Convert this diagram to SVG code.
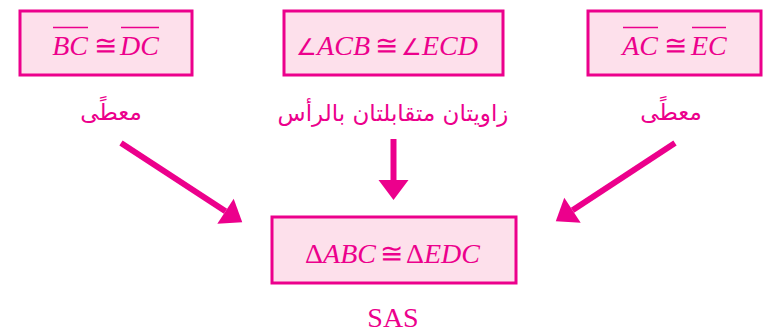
<svg xmlns="http://www.w3.org/2000/svg" width="767" height="333" viewBox="0 0 767 333">
<style>
.box{fill:#FDE0EB;stroke:#EC008C;stroke-width:3}
.m{font-family:"Liberation Serif",serif;font-size:28px;fill:#EC008C}
.i{font-style:italic}
.e{text-anchor:end}
.mid{text-anchor:middle}
.ang{font-size:23px;font-style:normal}
.ar{font-family:"DejaVu Sans",sans-serif;font-size:23px;fill:#EC008C;text-anchor:middle}
.ov{stroke:#EC008C;stroke-width:1.5}
.c{stroke:#EC008C;stroke-width:6;fill:none}
</style>
<defs>
<marker id="ah" markerUnits="userSpaceOnUse" markerWidth="20" markerHeight="30" refX="0" refY="15" orient="auto" overflow="visible">
<path d="M0,0 L20,15 L0,30 Z" fill="#EC008C"/>
</marker>
</defs>
<g id="n1">
<rect class="box" x="20" y="11" width="172" height="64"/>
<text class="m i e" x="88" y="55">BC</text>
<text class="m mid" x="105" y="55">≅</text>
<text class="m i" x="120" y="55">DC</text>
<line class="ov" x1="53" y1="27.5" x2="88" y2="27.5"/>
<line class="ov" x1="121" y1="27.5" x2="159" y2="27.5"/>
<text class="ar" x="111" y="120" direction="rtl">معطًى</text>
</g>
<g id="n2">
<rect class="box" x="284" y="11" width="219" height="64"/>
<text class="m i e" x="370" y="55"><tspan class="ang">∠</tspan>ACB</text>
<text class="m mid" x="386" y="55">≅</text>
<text class="m i" x="401" y="55"><tspan class="ang">∠</tspan>ECD</text>
<text class="ar" x="393" y="121" direction="rtl">زاويتان متقابلتان بالرأس</text>
</g>
<g id="n3">
<rect class="box" x="588" y="11" width="173" height="64"/>
<text class="m i e" x="658" y="55">AC</text>
<text class="m mid" x="675" y="55">≅</text>
<text class="m i" x="691" y="55">EC</text>
<line class="ov" x1="623" y1="27.5" x2="658" y2="27.5"/>
<line class="ov" x1="692" y1="27.5" x2="726" y2="27.5"/>
<text class="ar" x="671" y="120" direction="rtl">معطًى</text>
</g>
<g id="n4">
<rect class="box" x="272" y="217" width="244" height="66"/>
<text class="m e" x="376" y="263">Δ<tspan class="i">ABC</tspan></text>
<text class="m mid" x="391" y="263">≅</text>
<text class="m" x="406" y="263">Δ<tspan class="i">EDC</tspan></text>
<text class="m mid" x="393" y="327">SAS</text>
</g>
<g id="connectors">
<line class="c" x1="121" y1="143" x2="225.5" y2="211.2" marker-end="url(#ah)"/>
<line class="c" x1="675" y1="143" x2="572.5" y2="210.2" marker-end="url(#ah)"/>
<line class="c" x1="393.5" y1="139" x2="393.5" y2="180" marker-end="url(#ah)"/>
</g>
</svg>
